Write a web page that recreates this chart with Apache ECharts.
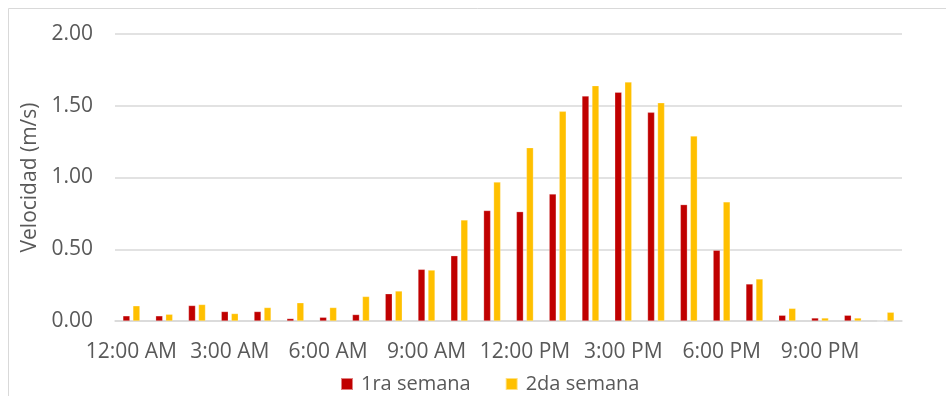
<!DOCTYPE html>
<html>
<head>
<meta charset="utf-8">
<script src="https://cdn.jsdelivr.net/npm/echarts@6/dist/echarts.min.js"></script>
<style>
  html, body { margin: 0; padding: 0; background: #fff; }
  #chart { width: 946px; height: 396px; }
</style>
</head>
<body>
<div id="chart"></div>
<script>
// Hour of day, 0..23
const hours = [0, 1, 2, 3, 4, 5, 6, 7, 8, 9, 10, 11, 12, 13, 14, 15, 16, 17, 18, 19, 20, 21, 22, 23];

// Mean velocity per hour (m/s)
const semana1 = [0.036, 0.036, 0.108, 0.066, 0.066, 0.017, 0.026, 0.045, 0.19, 0.36, 0.455, 0.77,
                 0.762, 0.885, 1.568, 1.594, 1.454, 0.811, 0.493, 0.258, 0.04, 0.021, 0.04, 0];
const semana2 = [0.106, 0.047, 0.115, 0.052, 0.094, 0.127, 0.094, 0.171, 0.209, 0.355, 0.704, 0.968,
                 1.208, 1.461, 1.64, 1.666, 1.521, 1.289, 0.83, 0.293, 0.088, 0.021, 0.021, 0.061];

const seriesNames = ['1ra semana', '2da semana'];
const yTicks = { min: 0, max: 2, interval: 0.5 };

function hourLabel(h) {
  const suffix = h < 12 ? 'AM' : 'PM';
  const hh = h % 12 === 0 ? 12 : h % 12;
  return hh + ':00 ' + suffix;
}
const categories = hours.map(hourLabel);

const font = '"Open Sans", "Noto Sans", sans-serif';
const grey = '#595959';

const chart = echarts.init(document.getElementById('chart'), null, { renderer: 'canvas' });
chart.setOption({
  animation: false,
  backgroundColor: '#ffffff',
  graphic: [{
    type: 'rect',
    shape: { x: 8.5, y: 8.5, width: 1000, height: 500 },
    style: { fill: 'none', stroke: '#d9d9d9', lineWidth: 1 },
    silent: true
  }],
  grid: { left: 115, right: 44, top: 34, bottom: 75, containLabel: false },
  legend: {
    data: seriesNames,
    top: 369,
    left: 335,
    itemWidth: 12,
    itemHeight: 12,
    itemGap: 34,
    icon: 'rect',
    textStyle: { color: grey, fontSize: 20, fontFamily: font, padding: [0, 0, 0, 3] }
  },
  xAxis: {
    type: 'category',
    data: categories,
    axisLine: { show: true, lineStyle: { color: '#d9d9d9', width: 1.5 } },
    axisTick: { show: false },
    axisLabel: {
      interval: 2,
      color: grey,
      fontSize: 21,
      fontFamily: font,
      margin: 21
    }
  },
  yAxis: {
    type: 'value',
    min: yTicks.min,
    max: yTicks.max,
    interval: yTicks.interval,
    name: 'Velocidad (m/s)',
    nameLocation: 'middle',
    nameGap: 73,
    nameRotate: 90,
    nameTextStyle: { color: grey, fontSize: 21, fontFamily: font },
    axisLine: { show: false },
    axisTick: { show: false },
    splitLine: { lineStyle: { color: '#d9d9d9', width: 1.5 } },
    axisLabel: {
      color: grey,
      fontSize: 21,
      fontFamily: font,
      margin: 22,
      formatter: v => v.toFixed(2)
    }
  },
  series: [
    {
      name: seriesNames[0],
      type: 'bar',
      data: semana1,
      barWidth: 7,
      barGap: '43%',
      itemStyle: { color: '#c00000', borderColor: 'rgba(255,255,255,0.5)', borderWidth: 0.5 }
    },
    {
      name: seriesNames[1],
      type: 'bar',
      data: semana2,
      barWidth: 7,
      itemStyle: { color: '#ffc000', borderColor: 'rgba(255,255,255,0.5)', borderWidth: 0.5 }
    }
  ]
});
</script>
</body>
</html>
